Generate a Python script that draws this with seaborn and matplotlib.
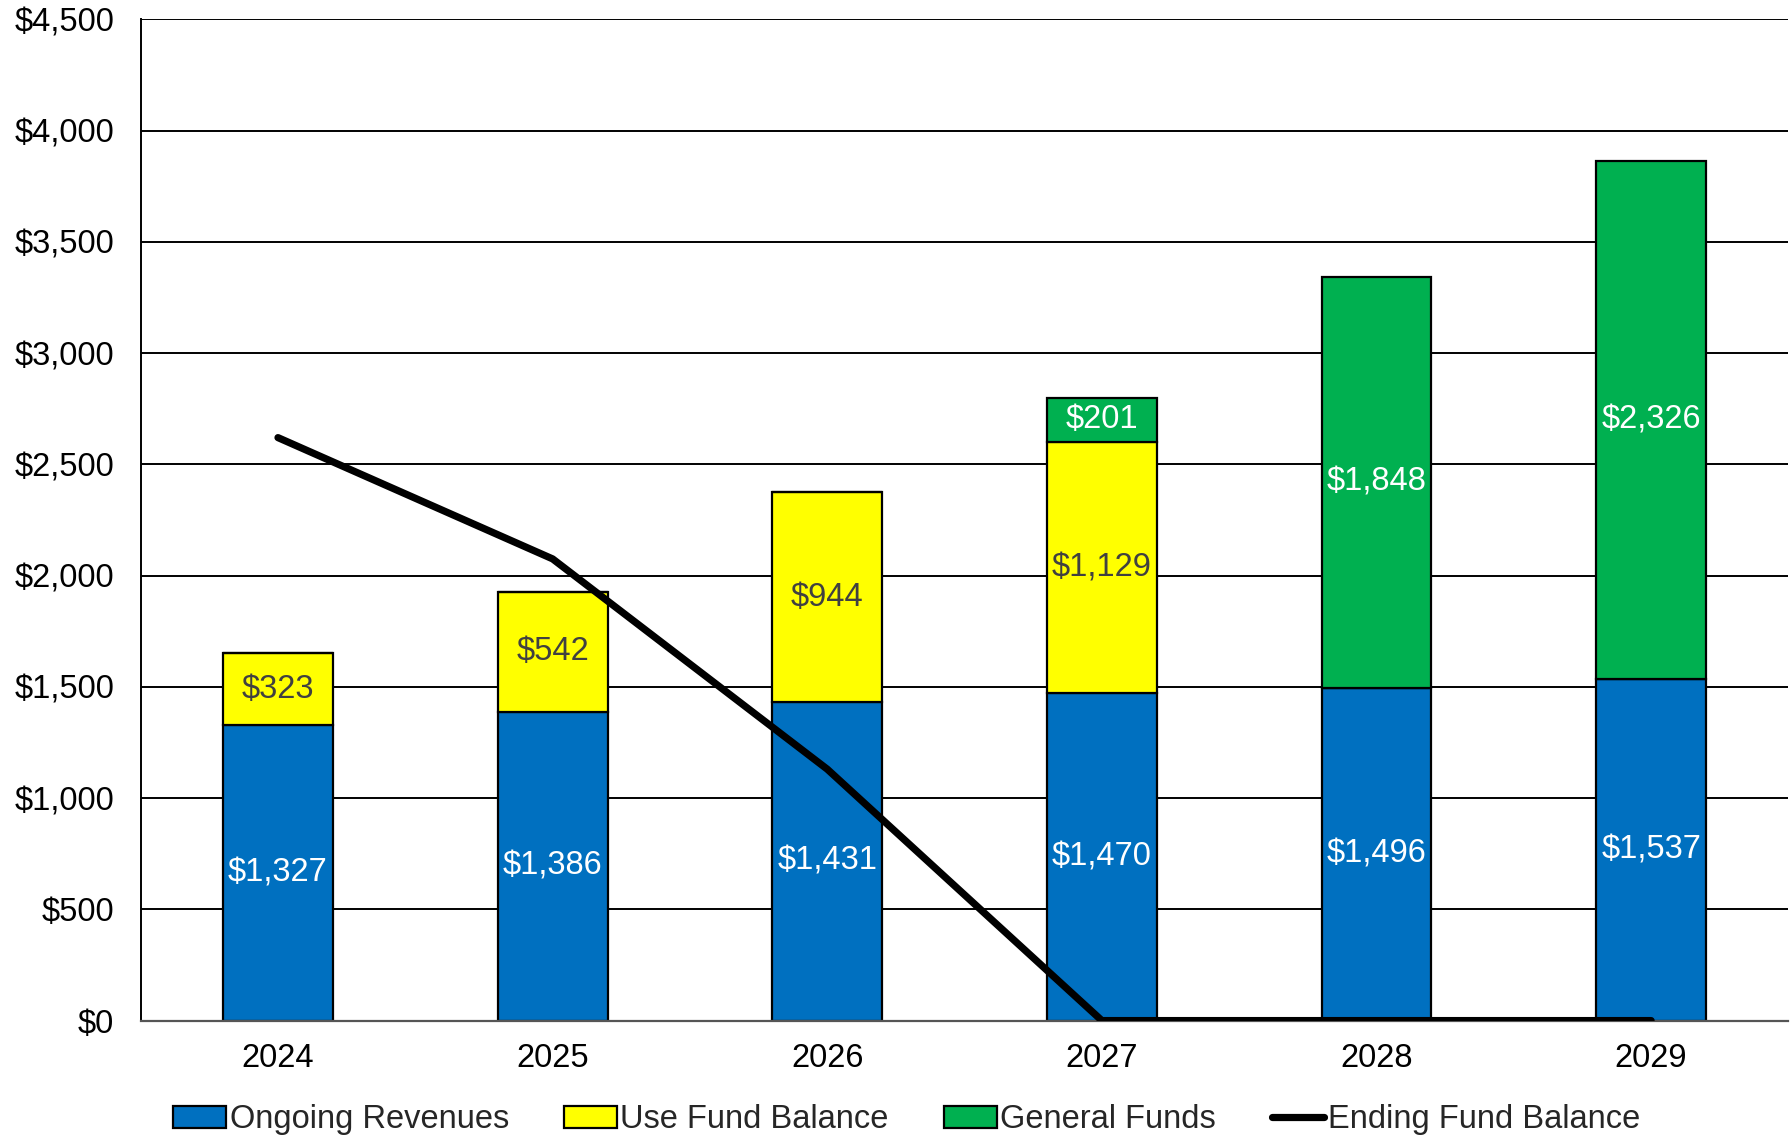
import numpy as np
import pandas as pd
import matplotlib
matplotlib.use("Agg")
import matplotlib.pyplot as plt
import seaborn as sns
from matplotlib.patches import Patch
from matplotlib.lines import Line2D

years = ["2024", "2025", "2026", "2027", "2028", "2029"]
ongoing_revenues = [1327, 1386, 1431, 1470, 1496, 1537]
use_fund_balance = [323, 542, 944, 1129, 0, 0]
general_funds = [0, 0, 0, 201, 1848, 2326]
ending_fund_balance = [2620, 2075, 1130, 0, 0, 0]
y_ticks = [0, 500, 1000, 1500, 2000, 2500, 3000, 3500, 4000, 4500]

series_names = ["Ongoing Revenues", "Use Fund Balance", "General Funds", "Ending Fund Balance"]
colors = ["#0070C0", "#FFFF00", "#00B050"]
text_colors = ["white", "#404040", "white"]

sns.set_theme(style="white")
plt.rcParams["font.family"] = ["Liberation Sans", "DejaVu Sans"]
FS = 23.5

fig = plt.figure(figsize=(17.92, 11.37), dpi=100)
ax = fig.add_axes([0.0785, 0.1024, 0.9195, 0.8806])

layers = [ongoing_revenues, use_fund_balance, general_funds]
bottom = np.zeros(len(years))
for vals, col, tcol in zip(layers, colors, text_colors):
    df = pd.DataFrame({"year": years, "value": vals})
    n_before = len(ax.containers)
    sns.barplot(data=df, x="year", y="value", color=col, width=0.4,
                bottom=bottom, edgecolor="black", linewidth=1.6,
                saturation=1, ax=ax, zorder=2)
    cont = ax.containers[n_before]
    labels = [f"${v:,.0f}" if v > 0 else "" for v in vals]
    ax.bar_label(cont, labels=labels, label_type="center", color=tcol, fontsize=FS)
    bottom = bottom + np.array(vals)

sns.lineplot(x=np.arange(len(years)), y=ending_fund_balance, color="black",
             linewidth=5.2, ax=ax, zorder=3)

ax.set_xlim(-0.5, len(years) - 0.5)
ax.set_ylim(0, 4500)
ax.set_yticks(y_ticks)
ax.set_yticklabels([f"${v:,.0f}" for v in y_ticks])
ax.set_xticks(range(len(years)))
ax.set_xticklabels(years)
ax.set_xlabel("")
ax.set_ylabel("")
ax.tick_params(axis="y", length=0, pad=19, labelsize=FS, labelcolor="black")
ax.tick_params(axis="x", length=0, pad=16, labelsize=FS, labelcolor="black")

ax.set_axisbelow(True)
ax.yaxis.grid(True, color="black", linewidth=1.4)
ax.xaxis.grid(False)
for s in ["top", "right"]:
    ax.spines[s].set_visible(False)
ax.spines["left"].set_color("black")
ax.spines["left"].set_linewidth(1.4)
ax.spines["bottom"].set_color("#555555")
ax.spines["bottom"].set_linewidth(1.6)

handles = [Patch(facecolor=c, edgecolor="black", linewidth=1.6) for c in colors]
handles.append(Line2D([0], [0], color="black", linewidth=5.2))
fig.legend(handles, series_names, loc="center", bbox_to_anchor=(0.506, 0.015),
           ncol=4, frameon=False, fontsize=FS, handlelength=1.6, handleheight=0.7,
           handletextpad=0.12, columnspacing=1.7)

fig.savefig("out.png", dpi=100)
